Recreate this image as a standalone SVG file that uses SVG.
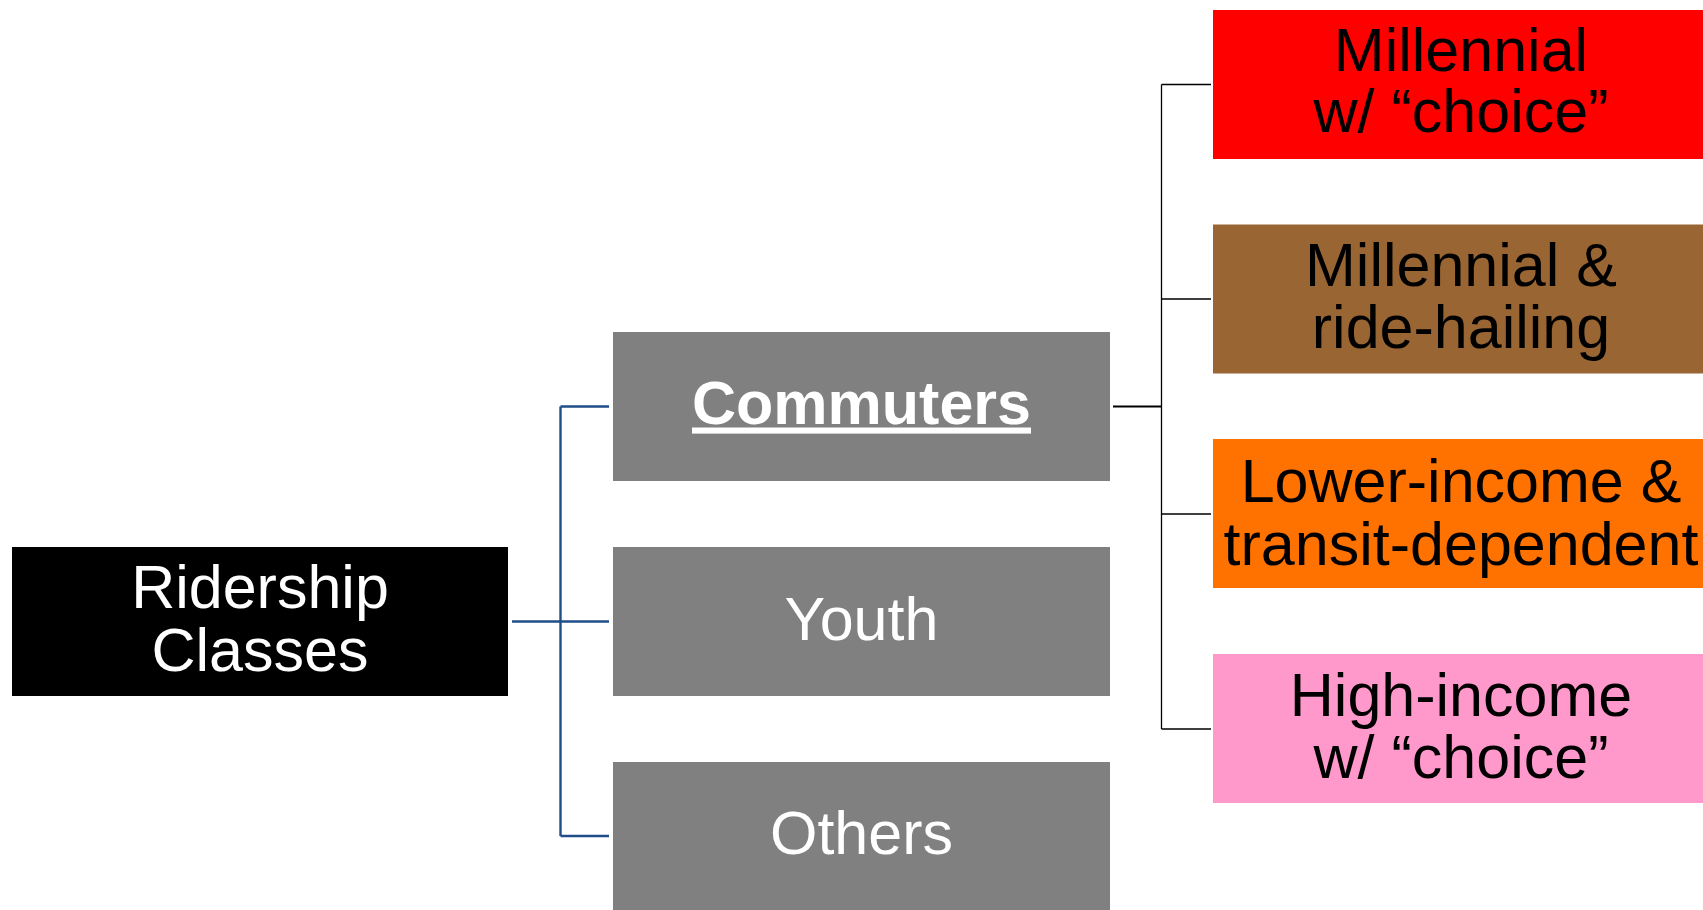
<svg xmlns="http://www.w3.org/2000/svg" width="1703" height="910" viewBox="0 0 1703 910">
<style>
  text { font-family: "Liberation Sans", Arial, sans-serif; font-size: 61px; text-anchor: middle; }
  .w { fill: #ffffff; }
  .k { fill: #000000; }
  .grey { fill: #808080; }
  .blue { stroke: #1F4E89; stroke-width: 2.4; fill: none; }
  .blk { stroke: #000000; stroke-width: 1.3; fill: none; }
  .blk2 { stroke: #000000; stroke-width: 2; fill: none; }
</style>
<rect width="1703" height="910" fill="#ffffff"/>
<g id="connectors">
  <path class="blue" d="M512 621.5 H609 M560.5 406.5 V836 M560.5 406.5 H609 M560.5 836 H609"/>
  <path class="blk2" d="M1113 406.5 H1161.5"/>
  <path class="blk" d="M1161.5 84.5 V729 M1161.5 84.5 H1211 M1161.5 299 H1211 M1161.5 514 H1211 M1161.5 729 H1211"/>
</g>
<g id="ridership-classes">
  <rect x="12" y="547" width="496" height="149" fill="#000000"/>
  <text class="w"><tspan x="260" y="608">Ridership</tspan><tspan x="260" y="671">Classes</tspan></text>
</g>
<g id="commuters">
  <rect class="grey" x="613" y="332" width="497" height="149"/>
  <text class="w" x="861.5" y="423.5" font-weight="bold" text-decoration="underline">Commuters</text>
</g>
<g id="youth">
  <rect class="grey" x="613" y="547" width="497" height="149"/>
  <text class="w" x="861.5" y="640">Youth</text>
</g>
<g id="others">
  <rect class="grey" x="613" y="762" width="497" height="149"/>
  <text class="w" x="861.5" y="854">Others</text>
</g>
<g id="millennial-choice">
  <rect x="1213" y="10" width="497" height="149" fill="#FF0000"/>
  <text class="k"><tspan x="1461" y="71">Millennial</tspan><tspan x="1461" y="132">w/ “choice”</tspan></text>
</g>
<g id="millennial-ride-hailing">
  <rect x="1213" y="224.5" width="497" height="149" fill="#996633"/>
  <text class="k"><tspan x="1461" y="286">Millennial &amp;</tspan><tspan x="1461" y="348">ride-hailing</tspan></text>
</g>
<g id="lower-income">
  <rect x="1213" y="439" width="497" height="149" fill="#FF7200"/>
  <text class="k"><tspan x="1461" y="501.5">Lower-income &amp;</tspan><tspan x="1461" y="565">transit-dependent</tspan></text>
</g>
<g id="high-income">
  <rect x="1213" y="654" width="497" height="149" fill="#FF99CC"/>
  <text class="k"><tspan x="1461" y="716">High-income</tspan><tspan x="1461" y="778">w/ “choice”</tspan></text>
</g>
</svg>
